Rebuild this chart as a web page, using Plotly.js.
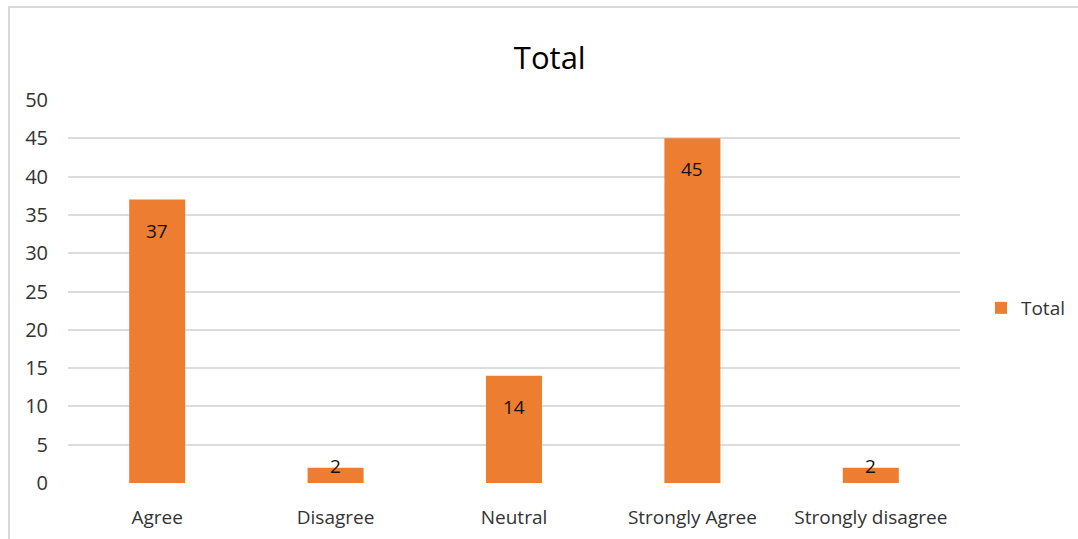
<!DOCTYPE html>
<html>
<head>
<meta charset="utf-8">
<script src="https://cdn.plot.ly/plotly-3.0.1.min.js"></script>
<style>
  html, body { margin: 0; padding: 0; background: #fff; }
  #wrap { position: relative; width: 1078px; height: 539px; }
  #chart { width: 1078px; height: 539px; }
  #frame {
    position: absolute; left: 8px; top: 6px; right: -4px; bottom: -4px;
    border-left: 2px solid #d9d9d9; border-top: 2px solid #d9d9d9;
    pointer-events: none;
  }
</style>
</head>
<body>
<div id="wrap">
  <div id="chart"></div>
  <div id="frame"></div>
</div>
<script>
// Responses per answer option
const categories = ["Agree", "Disagree", "Neutral", "Strongly Agree", "Strongly disagree"];
const totals = [37, 2, 14, 45, 2];
const yTicks = [0, 5, 10, 15, 20, 25, 30, 35, 40, 45, 50];

const FONT = "Open Sans, Liberation Sans, sans-serif";
const BAR = "#ED7D31";

const trace = {
  type: "bar",
  name: "Total",
  x: categories,
  y: totals,
  marker: { color: BAR },
  hoverinfo: "x+y"
};

// Value labels placed near the top of each bar
const labels = categories.map((c, i) => ({
  x: c,
  y: totals[i],
  xref: "x",
  yref: "y",
  text: String(totals[i]),
  showarrow: false,
  yshift: totals[i] > 5 ? -31 : 2,
  font: { family: FONT, size: 19, color: "#111" }
}));

const layout = {
  width: 1078,
  height: 539,
  paper_bgcolor: "#fff",
  plot_bgcolor: "#fff",
  margin: { l: 68, r: 118, t: 100, b: 55.5, pad: 0 },
  title: {
    text: "Total",
    font: { family: FONT, size: 31, color: "#000" },
    x: 0.51,
    xanchor: "center",
    y: 1 - 58 / 539,
    yanchor: "middle"
  },
  bargap: 0.686,
  xaxis: {
    type: "category",
    showgrid: false,
    zeroline: false,
    showline: false,
    ticks: "",
    tickangle: 0,
    ticklabelstandoff: 21,
    tickfont: { family: FONT, size: 19, color: "#333" }
  },
  yaxis: {
    range: [0, 50],
    tickvals: yTicks,
    ticktext: yTicks.map(String),
    showgrid: true,
    gridcolor: "#dcdcdc",
    gridwidth: 2,
    zeroline: false,
    showline: false,
    ticks: "",
    ticklabelstandoff: 19,
    tickfont: { family: FONT, size: 20, color: "#333" }
  },
  showlegend: true,
  legend: {
    xref: "container",
    yref: "container",
    x: 0.91,
    xanchor: "left",
    y: 1 - 308 / 539,
    yanchor: "middle",
    font: { family: FONT, size: 19, color: "#333" },
    itemwidth: 30
  },
  annotations: labels
};

Plotly.newPlot("chart", [trace], layout, { displayModeBar: false, staticPlot: true });
</script>
</body>
</html>
